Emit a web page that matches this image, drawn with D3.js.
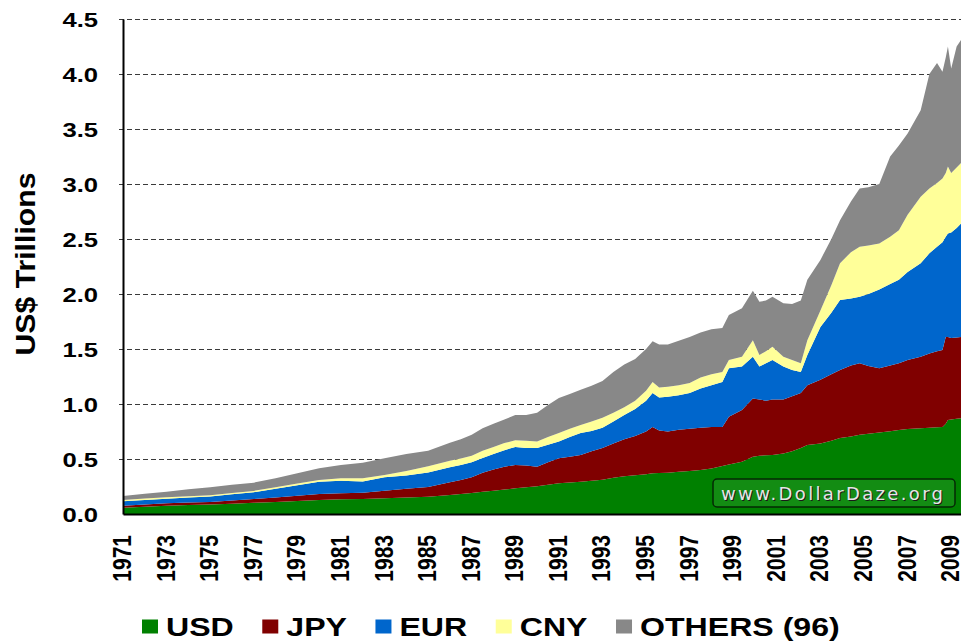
<!DOCTYPE html>
<html>
<head>
<meta charset="utf-8">
<script src="https://cdn.jsdelivr.net/npm/d3@7"></script>
<style>
    html, body { margin: 0; padding: 0; background: #fff; }
    svg { display: block; }
</style>
</head>
<body>
<div id="chart"></div>
<script>
// ============================================================
// Data (US$ trillions)
// ============================================================
var dates = [1971, 1972, 1973, 1974, 1975, 1976, 1977, 1978, 1979, 1980,
    1981, 1982, 1983, 1984, 1985, 1986, 1986.5, 1987, 1987.5, 1988,
    1988.5, 1989, 1989.5, 1990, 1990.5, 1991, 1991.5, 1992, 1992.5, 1993,
    1993.5, 1994, 1994.5, 1995, 1995.3, 1995.6, 1996, 1996.5, 1997, 1997.5,
    1998, 1998.5, 1998.8, 1999.4, 1999.9, 2000.2, 2000.5, 2000.8, 2001.3, 2001.7,
    2002.1, 2002.4, 2003, 2003.5, 2003.9, 2004.4, 2004.8, 2005.2, 2005.7, 2006.2,
    2006.6, 2007, 2007.6, 2008, 2008.35, 2008.6, 2008.75, 2008.85, 2009, 2009.25,
    2009.45];

var usd = [.057, .066, .075, .081, .086, .094, .102, .110, .118, .127,
    .133, .136, .143, .150, .156, .173, .182, .190, .203, .212,
    .222, .233, .243, .253, .267, .280, .287, .294, .302, .312,
    .330, .343, .352, .362, .370, .372, .376, .383, .392, .400,
    .414, .436, .450, .475, .520, .530, .533, .536, .550, .570,
    .600, .627, .640, .665, .690, .705, .720, .730, .740, .752,
    .764, .772, .780, .785, .788, .790, .820, .855, .860, .865,
    .870];

var jpy = [.018, .020, .022, .023, .024, .029, .034, .040, .048, .055,
    .055, .058, .069, .080, .089, .115, .128, .145, .172, .193,
    .208, .212, .197, .177, .203, .226, .233, .242, .268, .288,
    .310, .337, .358, .388, .420, .388, .374, .382, .383, .385,
    .376, .354, .435, .470, .530, .510, .497, .504, .490, .500,
    .500, .543, .580, .605, .620, .645, .650, .615, .585, .598,
    .606, .628, .650, .675, .692, .700, .790, .755, .740, .740,
    .740];

var eur = [.040, .041, .042, .046, .050, .057, .062, .080, .096, .112,
    .115, .102, .121, .120, .133, .137, .135, .135, .135, .140,
    .150, .165, .160, .170, .160, .154, .180, .200, .185, .185,
    .200, .220, .245, .280, .310, .300, .317, .315, .325, .355,
    .380, .410, .440, .395, .380, .300, .340, .360, .300, .240,
    .190, .275, .480, .560, .635, .610, .605, .655, .715, .740,
    .760, .800, .850, .910, .950, .980, .910, .940, .960, .995,
    1.03];

var cny = [.012, .013, .013, .012, .010, .012, .012, .014, .015, .015,
    .021, .028, .022, .042, .057, .060, .060, .060, .065, .065,
    .065, .060, .065, .060, .070, .076, .075, .074, .085, .090,
    .080, .070, .075, .090, .100, .090, .090, .090, .090, .100,
    .100, .090, .075, .090, .150, .105, .110, .120, .090, .090,
    .080, .135, .150, .250, .335, .420, .455, .440, .420, .430,
    .450, .520, .605, .590, .580, .580, .580, .610, .540, .550,
    .550];

var others = [.037, .043, .051, .063, .073, .073, .075, .081, .093, .106,
    .121, .143, .151, .153, .140, .163, .175, .190, .205, .210,
    .215, .230, .235, .260, .290, .319, .315, .320, .325, .335,
    .370, .390, .380, .380, .370, .390, .383, .405, .420, .410,
    .410, .400, .410, .440, .450, .485, .460, .455, .485, .510,
    .570, .550, .460, .420, .390, .460, .530, .530, .540, .730,
    .770, .740, .785, 1.04, 1.09, .970, 1.05, 1.09, .950, 1.10,
    1.12];

var seriesNames = ["USD", "JPY", "EUR", "CNY", "OTHERS (96)"];
var seriesColors = ["#008000", "#800000", "#0066cc", "#ffff99", "#888888"];
var yTicks = [0, 0.5, 1, 1.5, 2, 2.5, 3, 3.5, 4, 4.5];
var xTicks = [1971, 1973, 1975, 1977, 1979, 1981, 1983, 1985, 1987, 1989,
    1991, 1993, 1995, 1997, 1999, 2001, 2003, 2005, 2007, 2009];
var yTitle = "US$ Trillions";
var watermark = "www.DollarDaze.org";

// ============================================================
// Setup
// ============================================================
var width = 961, height = 643;
var plot = { left: 123, right: 961, top: 19, bottom: 514 };
var font = "'Liberation Sans', Arial, sans-serif";
var stretch = 1.22; // the original picture is widened a bit

var svg = d3.select("#chart").append("svg")
    .attr("width", width)
    .attr("height", height);

var x = d3.scaleLinear()
    .domain([dates[0], dates[dates.length - 1]])
    .range([plot.left, plot.right]);

var y = d3.scaleLinear()
    .domain([0, 4.5])
    .range([plot.bottom, plot.top]);

var seriesValues = [usd, jpy, eur, cny, others];
var rows = dates.map(function (d, i) {
    var r = { date: d };
    seriesNames.forEach(function (k, j) { r[k] = seriesValues[j][i]; });
    return r;
});

var stacked = d3.stack().keys(seriesNames)(rows);

// ============================================================
// Grid
// ============================================================
svg.append("g").selectAll("line")
    .data(yTicks.filter(function (d) { return d > 0; }))
    .enter()
    .append("line")
    .attr("x1", plot.left - 4)
    .attr("x2", plot.right)
    .attr("y1", function (d) { return Math.round(y(d)) + 0.5; })
    .attr("y2", function (d) { return Math.round(y(d)) + 0.5; })
    .attr("stroke", "#3a3a3a")
    .attr("stroke-width", 1)
    .attr("stroke-dasharray", "5,3");

// ============================================================
// Areas
// ============================================================
var area = d3.area()
    .x(function (d) { return x(d.data.date); })
    .y0(function (d) { return y(d[0]); })
    .y1(function (d) { return y(d[1]); });

svg.append("g").selectAll("path")
    .data(stacked)
    .enter()
    .append("path")
    .attr("d", area)
    .attr("fill", function (d, i) { return seriesColors[i]; });

// ============================================================
// Axes
// ============================================================
var yAxis = svg.append("g")
    .attr("transform", "translate(" + plot.left + ",0)")
    .call(d3.axisLeft(y).tickValues(yTicks).tickFormat(d3.format(".1f"))
        .tickSize(0).tickSizeOuter(0));

yAxis.select(".domain").attr("stroke", "#000").attr("stroke-width", 2);
yAxis.selectAll("text")
    .attr("x", 0)
    .attr("dy", null)
    .attr("transform", "translate(-25,7.5) scale(" + stretch + ",1)")
    .attr("text-anchor", "end")
    .style("font-family", font)
    .style("font-weight", "bold")
    .style("font-size", "21px")
    .style("fill", "#000");

var xAxis = svg.append("g")
    .attr("transform", "translate(0," + plot.bottom + ")")
    .call(d3.axisBottom(x).tickValues(xTicks).tickFormat(d3.format("d"))
        .tickSize(0).tickSizeOuter(0));

xAxis.select(".domain").attr("stroke", "#000").attr("stroke-width", 2);
xAxis.selectAll("text")
    .attr("x", 0)
    .attr("y", 0)
    .attr("dy", null)
    .attr("transform", "translate(7.5,21) scale(" + stretch + ",1) rotate(-90)")
    .attr("text-anchor", "end")
    .style("font-family", font)
    .style("font-weight", "bold")
    .style("font-size", "21px")
    .style("fill", "#000");

// axis title
svg.append("text")
    .attr("transform", "translate(35,264) rotate(-90) scale(1.12,1)")
    .attr("text-anchor", "middle")
    .style("font-family", font)
    .style("font-weight", "bold")
    .style("font-size", "27px")
    .text(yTitle);

// ============================================================
// Watermark box
// ============================================================
var wm = svg.append("g");
wm.append("rect")
    .attr("x", 713).attr("y", 479)
    .attr("width", 242).attr("height", 28)
    .attr("rx", 4)
    .attr("fill", "#138c13")
    .attr("stroke", "#052805")
    .attr("stroke-width", 1.5);
wm.append("text")
    .attr("x", 722).attr("y", 500.5)
    .attr("textLength", 222)
    .attr("lengthAdjust", "spacing")
    .style("font-family", "'DejaVu Sans', Verdana, sans-serif")
    .style("font-size", "18px")
    .style("fill", "#1a1a1a")
    .text(watermark);
wm.append("text")
    .attr("x", 721).attr("y", 499.5)
    .attr("textLength", 222)
    .attr("lengthAdjust", "spacing")
    .style("font-family", "'DejaVu Sans', Verdana, sans-serif")
    .style("font-size", "18px")
    .style("fill", "#e6e6e6")
    .text(watermark);

// ============================================================
// Legend
// ============================================================
var legend = svg.append("g");
var lx = 142;
var lstretch = 1.235;
seriesNames.forEach(function (name, i) {
    legend.append("rect")
        .attr("x", lx).attr("y", 619.5)
        .attr("width", 16).attr("height", 14)
        .attr("fill", seriesColors[i]);
    var t = legend.append("text")
        .attr("transform", "translate(" + (lx + 24) + ",635.5) scale(" + lstretch + ",1)")
        .style("font-family", font)
        .style("font-weight", "bold")
        .style("font-size", "26px")
        .text(name);
    lx += 24 + t.node().getComputedTextLength() * lstretch + 28.5;
});
</script>
</body>
</html>
